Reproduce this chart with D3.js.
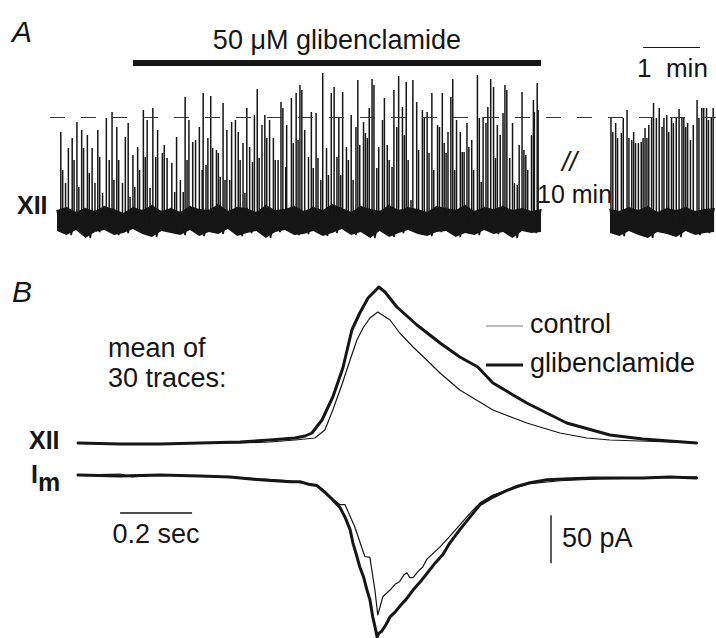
<!DOCTYPE html>
<html>
<head>
<meta charset="utf-8">
<script src="https://cdn.jsdelivr.net/npm/d3@7"></script>
<style>
  body { margin: 0; background: #fff; }
  svg { display: block; font-family: "Liberation Sans", Arial, sans-serif; }
</style>
</head>
<body>
<svg id="svg" width="716" height="638"></svg>
<script>
const WIDTH = 716
const HEIGHT = 638
const INK = '#161616'

// ---- panel A: XII bursts, drug run (time in s, amplitude in a.u.) ----
const drugSpikeTimes = [
  4, 6, 9, 12, 16, 18, 21, 23, 26, 28, 32, 34, 37, 40, 43, 45, 48, 52, 55, 58,
  60, 63, 65, 69, 72, 75, 77, 80, 82, 85, 87, 91, 93, 95, 98, 101, 104, 106, 111, 113, 116,
  121, 124, 126, 130, 133, 135, 137, 139, 143, 146, 150, 153, 154, 157, 159, 162, 164, 168, 170, 172,
  175, 177, 179, 182, 184, 188, 191, 193, 196, 198, 200, 203, 206, 208, 211, 213, 216, 219, 221, 224,
  228, 230, 233, 236, 238, 241, 242, 247, 249,
  252, 254, 256, 258, 261, 265, 268, 270, 273, 275, 278, 280, 284, 286, 289, 292, 295, 297, 299, 301,
  305, 307, 310, 312, 315, 317, 319, 323, 325, 327, 329, 332, 334, 337, 339, 343, 345, 348, 350, 353,
  355, 358, 360, 364, 366, 368, 370, 373,
  375, 379, 381, 385, 387, 390, 392, 395, 397, 401, 403, 406, 408, 410, 412, 415, 417, 419, 421, 425,
  427, 429, 432, 434, 437, 439, 443, 445, 447, 449, 452, 454, 457, 460, 462, 464, 467, 470, 472, 474,
  477, 480, 482, 485, 487, 490, 492, 494, 496, 500, 502, 503, 506, 507
]
const drugSpikeAmps = [
  90, 52, 39, 74, 84, 62, 100, 35, 92, 74, 87, 49, 74, 39, 92, 65, 29, 104, 62, 110,
  42, 95, 62, 39, 85, 99, 25, 67, 35, 75, 52, 112, 65, 102, 34, 114, 65, 92, 69, 77, 64,
  59, 30, 85, 42, 30, 125, 62, 102, 80, 82, 95, 52, 129, 57, 84, 126, 74, 72, 69, 45,
  119, 42, 92, 42, 100, 102, 90, 62, 79, 29, 114, 75, 60, 107, 133, 64, 97, 107, 84, 102,
  84, 62, 62, 120, 114, 55, 97, 124, 79,
  129, 82, 137, 132, 92, 65, 110, 54, 109, 64, 42, 149, 74, 47, 129, 135, 65, 104, 47, 130,
  75, 62, 107, 42, 95, 142, 77, 100, 89, 84, 114, 143, 137, 54, 75, 102, 124, 77, 62, 55,
  132, 95, 146, 115, 87, 140, 62, 22,
  142, 120, 72, 112, 104, 110, 69, 129, 52, 97, 95, 129, 79, 69, 90, 125, 143, 52, 102, 90,
  70, 70, 99, 75, 82, 52, 147, 104, 40, 105, 99, 115, 143, 135, 64, 97, 87, 109, 137, 132,
  64, 99, 39, 37, 77, 130, 72, 67, 52, 87, 122, 110, 139, 112
]
// baseline noise envelope, one value every 10 s
const drugNoiseTop = [
  12, 15, 10, 14, 11, 16, 13, 9, 15, 12, 17, 11, 14, 10, 16, 13, 12, 18, 11, 15,
  14, 10, 17, 12, 13, 16, 11, 15, 12, 18, 14, 10, 16, 13, 11, 17, 12, 15, 13, 10,
  16, 14, 12, 17, 11, 15, 13, 16, 12, 14, 11, 13
]
const drugNoiseBottom = [
  -9, -13, -8, -16, -10, -8, -13, -11, -7, -12, -15, -9, -11, -13, -8, -14, -10, -12, -7, -14,
  -11, -9, -16, -10, -8, -13, -12, -9, -14, -11, -7, -13, -10, -16, -9, -15, -11, -8, -12, -14,
  -10, -9, -15, -11, -13, -8, -12, -10, -16, -9, -11, -10
]
const DRUG_START = 80
const DRUG_END = 510

// ---- panel A: after 10 min wash ----
const washSpikeTimes = [
  1, 3, 6, 8, 12, 14, 18, 20, 23, 25, 27, 30, 33, 35, 37, 39, 41, 44, 46, 49,
  52, 55, 57, 60, 62, 65, 67, 70, 73, 76, 78, 80, 82, 85, 88, 92, 94, 97, 99, 102,
  104, 107, 109
]
const washSpikeAmps = [
  104, 90, 99, 84, 89, 104, 112, 84, 82, 90, 79, 79, 80, 84, 94, 84, 97, 104, 119, 104,
  114, 95, 104, 107, 90, 105, 99, 104, 113, 105, 104, 95, 99, 82, 97, 122, 104, 114, 114, 114,
  102, 105, 114
]
const washNoiseTop = [13, 11, 15, 12, 16, 10, 14, 12, 15, 11, 13, 14]
const washNoiseBottom = [-11, -14, -9, -13, -16, -10, -12, -15, -9, -13, -11, -10]
const CONTROL_LEVEL = 105

// ---- panel B: mean XII burst (a.u.) and membrane current (pA), time in s ----
const xiiGlibT = [0, 0.117, 0.228, 0.339, 0.45, 0.533, 0.603, 0.631, 0.65, 0.678, 0.708, 0.736, 0.761, 0.783, 0.806, 0.836,
  0.853, 0.886, 0.942, 1.006, 1.061, 1.111, 1.153, 1.247, 1.358, 1.478, 1.569, 1.719]
const xiiGlib = [0, -1, -1, 0, 1, 3, 5, 7, 10, 23, 46, 75, 113, 130, 145, 156,
  151, 136, 118, 100, 86, 76, 60, 40, 20, 8, 4, 0]
const xiiCtrlT = [0, 0.117, 0.228, 0.339, 0.45, 0.533, 0.603, 0.658, 0.686, 0.708, 0.733, 0.756, 0.775, 0.792, 0.811, 0.833,
  0.867, 0.894, 0.931, 0.969, 1.006, 1.061, 1.153, 1.247, 1.339, 1.414, 1.478, 1.561, 1.719]
const xiiCtrl = [0, -1, -1, 0, 0, 1, 3, 5, 13, 33, 58, 83, 103, 115, 125, 131,
  123, 110, 96, 83, 70, 53, 33, 20, 10, 5, 3, 2, 0]

const imGlibT = [0, 0.117, 0.228, 0.339, 0.422, 0.506, 0.589, 0.617, 0.644, 0.664, 0.686, 0.708, 0.728, 0.742, 0.756, 0.764,
  0.775, 0.783, 0.794, 0.803, 0.811, 0.819, 0.828, 0.831, 0.836, 0.844, 0.856, 0.867, 0.881, 0.894, 0.911, 0.931,
  0.95, 0.969, 0.992, 1.014, 1.033, 1.061, 1.089, 1.117, 1.153, 1.186, 1.219, 1.256, 1.303, 1.367, 1.431, 1.506,
  1.569, 1.644, 1.719]
const imGlib = [0, -1, 0, -1, -2, -5, -7, -7, -10, -11, -18, -26, -34, -44, -57, -71,
  -85, -96, -107, -120, -130, -148, -163, -169, -165, -163, -156, -148, -143, -137, -130, -120,
  -112, -103, -92, -83, -71, -57, -44, -31, -23, -17, -12, -8, -5, -4, -3, -3,
  -3, -2, -3]
const imCtrlT = [0, 0.117, 0.15, 0.228, 0.339, 0.422, 0.506, 0.589, 0.617, 0.644, 0.664, 0.686, 0.708, 0.728, 0.742, 0.769,
  0.797, 0.811, 0.825, 0.833, 0.839, 0.847, 0.867, 0.881, 0.894, 0.906, 0.914, 0.922, 0.931, 0.944, 0.958, 0.969,
  1.006, 1.033, 1.061, 1.089, 1.117, 1.153, 1.2, 1.256, 1.339, 1.45, 1.589, 1.719]
const imCtrl = [0, 1, -2, 0, -1, -2, -4, -6, -8, -9, -11, -17, -25, -31, -31, -54,
  -85, -86, -120, -146, -138, -127, -120, -114, -111, -104, -102, -107, -107, -101, -96, -88,
  -75, -64, -52, -40, -29, -21, -15, -9, -6, -4, -3, -2]

const legendLabels = ['control', 'glibenclamide']

const SVG = d3.select('#svg')
SVG.append('rect').attr('width', WIDTH).attr('height', HEIGHT).attr('fill', '#fff')

// ================= panel A =================
const xA = d3.scaleLinear().domain([0, 510]).range([57, 541])
const xWash = d3.scaleLinear().domain([0, 112]).range([610, 716])
const yA = d3.scaleLinear().domain([0, CONTROL_LEVEL]).range([222, 117])

const A = SVG.append('g')

function drawRun (g, xs, times, amps, noiseTop, noiseBottom) {
  const steps = noiseTop.map((d, i) => i * 10)
  g.append('path')
    .attr('d', d3.area()
      .x((d, i) => xs(steps[i]))
      .y0((d, i) => yA(noiseBottom[i]))
      .y1(d => yA(d))(noiseTop))
    .attr('fill', INK)
  // zig-zag to roughen the noise band
  const zig = []
  noiseTop.forEach((d, i) => {
    zig.push([steps[i], d])
    if (i < noiseTop.length - 1) zig.push([steps[i] + 5, noiseBottom[i]])
  })
  g.append('path')
    .attr('d', d3.line().x(d => xs(d[0])).y(d => yA(d[1]))(zig))
    .attr('fill', 'none')
    .attr('stroke', INK)
    .attr('stroke-width', 1.6)
  g.selectAll('line.spike')
    .data(times)
    .enter()
    .append('line')
    .attr('class', 'spike')
    .attr('x1', d => xs(d))
    .attr('x2', d => xs(d))
    .attr('y1', yA(0))
    .attr('y2', (d, i) => yA(amps[i]))
    .attr('stroke', INK)
    .attr('stroke-width', 1.5)
}

drawRun(A.append('g'), xA, drugSpikeTimes, drugSpikeAmps, drugNoiseTop, drugNoiseBottom)
drawRun(A.append('g'), xWash, washSpikeTimes, washSpikeAmps, washNoiseTop, washNoiseBottom)

// control level (dashed)
A.append('line')
  .attr('x1', 50).attr('x2', WIDTH)
  .attr('y1', yA(CONTROL_LEVEL) + 0.5).attr('y2', yA(CONTROL_LEVEL) + 0.5)
  .attr('stroke', '#333')
  .attr('stroke-width', 1)
  .attr('stroke-dasharray', '15,16')

// drug application bar
A.append('rect')
  .attr('x', xA(DRUG_START))
  .attr('y', 60)
  .attr('width', xA(DRUG_END) - xA(DRUG_START))
  .attr('height', 6)
  .attr('fill', INK)
A.append('text')
  .attr('x', (xA(DRUG_START) + xA(DRUG_END)) / 2)
  .attr('y', 49)
  .attr('text-anchor', 'middle')
  .attr('font-size', 27)
  .attr('fill', INK)
  .text('50 \u03BCM glibenclamide')

// 1 min scale bar
A.append('line')
  .attr('x1', xWash(35)).attr('x2', xWash(95))
  .attr('y1', 47.5).attr('y2', 47.5)
  .attr('stroke', INK).attr('stroke-width', 1.2)
A.append('text')
  .attr('x', xWash(66)).attr('y', 77)
  .attr('text-anchor', 'middle')
  .attr('font-size', 26)
  .attr('fill', INK)
  .attr('xml:space', 'preserve')
  .text('1  min')

A.append('text').attr('x', 12).attr('y', 42)
  .attr('font-size', 30).attr('font-style', 'italic').attr('fill', INK).text('A')
A.append('text').attr('x', 17).attr('y', 214)
  .attr('font-size', 25).attr('font-weight', 'bold').attr('fill', INK).text('XII')
A.append('text').attr('x', 562).attr('y', 171)
  .attr('font-size', 27).attr('font-style', 'italic').attr('fill', INK).text('//')
A.append('text').attr('x', 537).attr('y', 203)
  .attr('font-size', 25).attr('fill', INK).text('10 min')

// ================= panel B =================
const xB = d3.scaleLinear().domain([0, 1.72]).range([78, 697])
const yXII = d3.scaleLinear().domain([0, 156]).range([443, 287])
const yIm = d3.scaleLinear().domain([0, -169]).range([475, 637])

const B = SVG.append('g')

const traceLine = (ys) => d3.line()
  .x(d => xB(d[0]))
  .y(d => ys(d[1]))
  .curve(d3.curveLinear)

const traces = [
  { t: xiiCtrlT, v: xiiCtrl, ys: yXII, w: 1.2 },
  { t: xiiGlibT, v: xiiGlib, ys: yXII, w: 3 },
  { t: imCtrlT, v: imCtrl, ys: yIm, w: 1.2 },
  { t: imGlibT, v: imGlib, ys: yIm, w: 3 }
]

B.selectAll('path.trace')
  .data(traces)
  .enter()
  .append('path')
  .attr('class', 'trace')
  .attr('d', d => traceLine(d.ys)(d.t.map((t, i) => [t, d.v[i]])))
  .attr('fill', 'none')
  .attr('stroke', INK)
  .attr('stroke-width', d => d.w)
  .attr('stroke-linejoin', 'round')
  .attr('stroke-linecap', 'round')

B.append('text').attr('x', 12).attr('y', 302)
  .attr('font-size', 30).attr('font-style', 'italic').attr('fill', INK).text('B')
B.append('text').attr('x', 108).attr('y', 357)
  .attr('font-size', 27).attr('fill', INK).text('mean of')
B.append('text').attr('x', 108).attr('y', 387)
  .attr('font-size', 27).attr('fill', INK).text('30 traces:')

B.append('text').attr('x', 29).attr('y', 449)
  .attr('font-size', 25).attr('font-weight', 'bold').attr('fill', INK).text('XII')
const IM = B.append('text').attr('x', 31).attr('y', 483)
  .attr('font-size', 25).attr('font-weight', 'bold').attr('fill', INK)
IM.append('tspan').text('I')
IM.append('tspan').attr('dy', 8).attr('font-size', 25).text('m')

// legend
const LEGEND = B.selectAll('g.legend')
  .data(legendLabels)
  .enter()
  .append('g')
  .attr('class', 'legend')
  .attr('transform', (d, i) => `translate(486, ${326 + i * 39})`)
LEGEND.append('line')
  .attr('x1', 0).attr('x2', 37)
  .attr('stroke', (d, i) => i === 0 ? '#777' : INK)
  .attr('stroke-width', (d, i) => i === 0 ? 1 : 3.2)
LEGEND.append('text')
  .attr('x', 44).attr('y', 7)
  .attr('font-size', 27)
  .attr('fill', INK)
  .text(d => d)

// scale bars
B.append('line')
  .attr('x1', xB(0.117)).attr('x2', xB(0.317))
  .attr('y1', 513).attr('y2', 513)
  .attr('stroke', INK).attr('stroke-width', 1.4)
B.append('text').attr('x', xB(0.217)).attr('y', 543)
  .attr('text-anchor', 'middle').attr('font-size', 27).attr('fill', INK).text('0.2 sec')
B.append('line')
  .attr('x1', 551).attr('x2', 551)
  .attr('y1', yIm(-42)).attr('y2', yIm(-92))
  .attr('stroke', INK).attr('stroke-width', 1.4)
B.append('text').attr('x', 562).attr('y', 547)
  .attr('font-size', 27).attr('fill', INK).text('50 pA')
</script>
</body>
</html>
